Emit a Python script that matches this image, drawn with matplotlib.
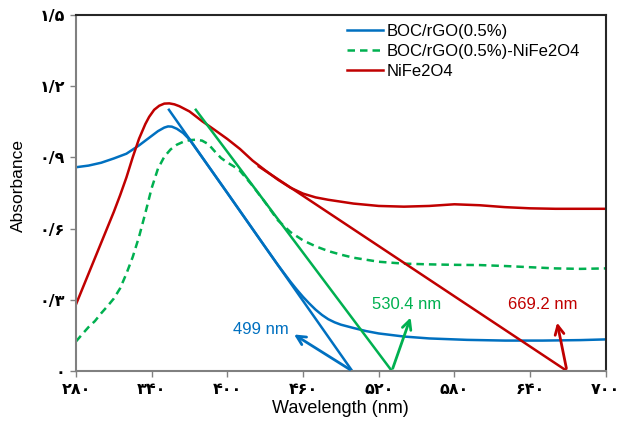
import matplotlib
matplotlib.use("Agg")
import matplotlib.pyplot as plt

# BOC/rGO(0.5%)
blue_wl = [280, 290, 300, 310, 320, 330, 340, 345, 350, 353, 356, 360, 365, 370,
           380, 390, 400, 410, 420, 430, 440, 450, 455, 460, 465, 470, 475, 480,
           485, 490, 500, 510, 520, 540, 560, 590, 620, 650, 680, 700]
blue_abs = [0.858, 0.865, 0.877, 0.895, 0.915, 0.950, 0.990, 1.010, 1.025, 1.030,
            1.029, 1.020, 1.002, 0.975, 0.900, 0.825, 0.750, 0.674, 0.598, 0.522,
            0.447, 0.376, 0.343, 0.312, 0.284, 0.258, 0.236, 0.218, 0.205, 0.195,
            0.181, 0.168, 0.158, 0.145, 0.137, 0.131, 0.128, 0.128, 0.130, 0.133]

# BOC/rGO(0.5%)-NiFe2O4
green_wl = [280, 285, 290, 295, 300, 305, 310, 315, 320, 325, 330, 335, 340, 345,
            350, 355, 360, 365, 370, 375, 380, 385, 390, 395, 400, 405, 410, 420,
            430, 440, 450, 460, 470, 480, 490, 500, 520, 540, 560, 580, 600, 620,
            640, 660, 680, 700]
green_abs = [0.124, 0.155, 0.185, 0.210, 0.243, 0.273, 0.305, 0.348, 0.410, 0.480,
             0.565, 0.665, 0.770, 0.852, 0.902, 0.933, 0.953, 0.965, 0.972, 0.974,
             0.970, 0.955, 0.925, 0.897, 0.878, 0.862, 0.843, 0.780, 0.710, 0.635,
             0.585, 0.550, 0.525, 0.505, 0.490, 0.477, 0.460, 0.452, 0.449, 0.447,
             0.446, 0.442, 0.437, 0.432, 0.430, 0.432]

# NiFe2O4
red_wl = [280, 285, 290, 295, 300, 305, 310, 315, 320, 325, 330, 335, 338, 342,
          346, 350, 354, 358, 362, 370, 380, 390, 400, 410, 420, 430, 440, 450,
          460, 470, 480, 500, 520, 540, 560, 580, 600, 620, 640, 660, 680, 700]
red_abs = [0.280, 0.345, 0.410, 0.475, 0.540, 0.605, 0.670, 0.740, 0.815, 0.900,
           0.978, 1.040, 1.070, 1.100, 1.117, 1.126, 1.127, 1.123, 1.115, 1.093,
           1.052, 1.015, 0.977, 0.935, 0.886, 0.845, 0.806, 0.772, 0.747, 0.731,
           0.721, 0.705, 0.695, 0.692, 0.695, 0.702, 0.698, 0.690, 0.685, 0.683,
           0.683, 0.683]

# tangent lines (band-edge extrapolation)
blue_tan_wl, blue_tan_abs = [353.7, 499.0], [1.10, 0.0]
green_tan_wl, green_tan_abs = [375.0, 530.4], [1.10, 0.0]
red_tan_wl, red_tan_abs = [425.0, 669.2], [0.861, 0.0]

x_ticks = [280, 340, 400, 460, 520, 580, 640, 700]
x_tick_labels = ['۲۸۰', '۳۴۰', '۴۰۰', '۴۶۰', '۵۲۰', '۵۸۰', '۶۴۰', '۷۰۰']
y_ticks = [0, 0.3, 0.6, 0.9, 1.2, 1.5]
y_tick_labels = ['۰', '۰/۳', '۰/۶', '۰/۹', '۱/۲', '۱/۵']

BLUE = '#0070C0'
GREEN = '#00B050'
RED = '#C00000'

plt.rcParams['font.family'] = ['Liberation Sans', 'DejaVu Sans']

fig = plt.figure(figsize=(6.33, 4.23), dpi=100)
ax = fig.add_axes([0.120, 0.123, 0.837, 0.842])

ax.plot(blue_wl, blue_abs, color=BLUE, lw=1.8, label='BOC/rGO(0.5%)')
ax.plot(green_wl, green_abs, color=GREEN, lw=1.8, ls=(0, (3, 2)),
        label='BOC/rGO(0.5%)-NiFe2O4')
ax.plot(red_wl, red_abs, color=RED, lw=1.8, label='NiFe2O4')

ax.plot(blue_tan_wl, blue_tan_abs, color=BLUE, lw=1.8)
ax.plot(green_tan_wl, green_tan_abs, color=GREEN, lw=1.8)
ax.plot(red_tan_wl, red_tan_abs, color=RED, lw=1.8)

# arrows pointing at the band-edge intercepts
arrow = dict(arrowstyle='->', lw=2, mutation_scale=16)
ax.annotate('', xy=(451, 0.16), xytext=(499, 0.0),
            arrowprops=dict(arrow, color=BLUE))
ax.annotate('', xy=(546, 0.236), xytext=(530.4, 0.0),
            arrowprops=dict(arrow, color=GREEN))
ax.annotate('', xy=(661, 0.215), xytext=(669.2, 0.0),
            arrowprops=dict(arrow, color=RED))
ax.text(449, 0.175, '499 nm', color=BLUE, fontsize=12, ha='right', va='center')
ax.text(542, 0.282, '530.4 nm', color=GREEN, fontsize=12, ha='center', va='center')
ax.text(650, 0.282, '669.2 nm', color=RED, fontsize=12, ha='center', va='center')

ax.set_xlim(280, 700)
ax.set_ylim(0, 1.5)
ax.set_xticks(x_ticks)
ax.set_xticklabels(x_tick_labels, fontfamily='DejaVu Sans', fontweight='bold',
                   fontsize=11.5)
ax.set_yticks(y_ticks)
ax.set_yticklabels(y_tick_labels, fontfamily='DejaVu Sans', fontweight='bold',
                   fontsize=11.5)
ax.tick_params(axis='both', direction='out', length=4, width=1, color='#808080',
               pad=4)

for side in ['left', 'bottom']:
    ax.spines[side].set_color('#808080')
    ax.spines[side].set_linewidth(1.5)
for side in ['top', 'right']:
    ax.spines[side].set_color('#262626')
    ax.spines[side].set_linewidth(1.5)

ax.set_xlabel('Wavelength (nm)', fontsize=13, labelpad=2)
ax.set_ylabel('Absorbance', fontsize=12.5)
ax.yaxis.set_label_coords(-0.095, 0.52)

ax.legend(loc='upper left', bbox_to_anchor=(0.511, 0.975), frameon=False,
          fontsize=12, handlelength=2.2, handletextpad=0.2, labelspacing=0.3,
          borderpad=0, borderaxespad=0)

fig.savefig('out.png', dpi=100)
